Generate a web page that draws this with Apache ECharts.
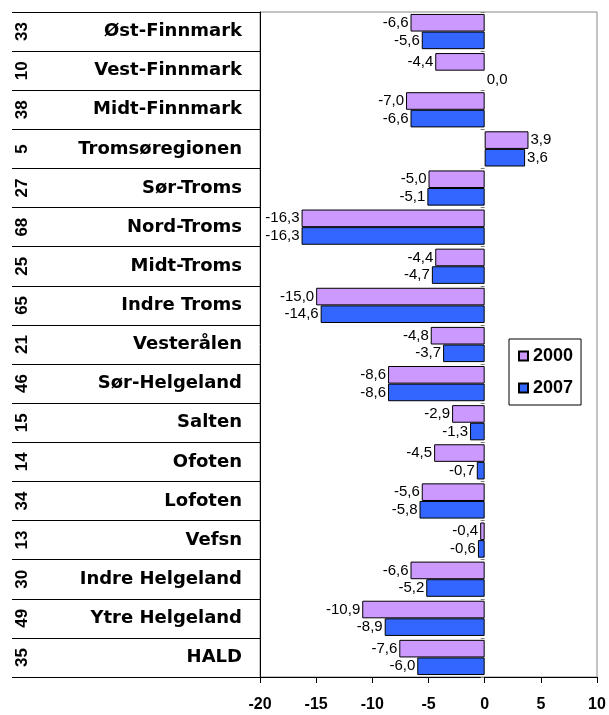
<!DOCTYPE html>
<html>
<head>
<meta charset="utf-8">
<script src="https://cdn.jsdelivr.net/npm/echarts@6/dist/echarts.min.js"></script>
<style>
  html, body { margin: 0; padding: 0; background: #fff; }
  #chart { width: 609px; height: 715px; }
</style>
</head>
<body>
<div id="chart"></div>
<script>
const regions = [
  'Øst-Finnmark', 'Vest-Finnmark', 'Midt-Finnmark', 'Tromsøregionen', 'Sør-Troms',
  'Nord-Troms', 'Midt-Troms', 'Indre Troms', 'Vesterålen', 'Sør-Helgeland',
  'Salten', 'Ofoten', 'Lofoten', 'Vefsn', 'Indre Helgeland', 'Ytre Helgeland', 'HALD'
];
const regionNumbers = ['33', '10', '38', '5', '27', '68', '25', '65', '21', '46', '15', '14', '34', '13', '30', '49', '35'];
const values2000 = [-6.6, -4.4, -7.0, 3.9, -5.0, -16.3, -4.4, -15.0, -4.8, -8.6, -2.9, -4.5, -5.6, -0.4, -6.6, -10.9, -7.6];
const values2007 = [-5.6, 0.0, -6.6, 3.6, -5.1, -16.3, -4.7, -14.6, -3.7, -8.6, -1.3, -0.7, -5.8, -0.6, -5.2, -8.9, -6.0];
const seriesNames = ['2000', '2007'];
const xMin = -20;
const xMax = 10;
const xStep = 5;

const fmt = (v) => v.toFixed(1).replace('.', ',');
// negative values get their label on the left, others on the right;
// a zero bar has no visible outline
const toItems = (arr) => arr.map(v => ({
  value: v,
  label: { position: v < 0 ? 'left' : 'right' },
  itemStyle: v === 0 ? { borderWidth: 0 } : undefined
}));

const barSeries = (name, data, color) => ({
  name: name,
  type: 'bar',
  yAxisIndex: 0,
  data: toItems(data),
  barGap: '0%',
  barCategoryGap: '10%',
  itemStyle: { color: color, borderColor: '#000', borderWidth: 1 },
  label: {
    show: true,
    distance: 2,
    color: '#000',
    fontSize: 15,
    fontFamily: 'Liberation Sans',
    formatter: (p) => fmt(p.value)
  }
});

const myChart = echarts.init(document.getElementById('chart'));
myChart.setOption({
  backgroundColor: '#fff',
  animation: false,
  textStyle: { fontFamily: 'Liberation Sans' },
  grid: {
    left: 260,
    right: 12,
    top: 12,
    bottom: 38,
    show: true,
    borderColor: '#888',
    borderWidth: 1
  },
  legend: {
    orient: 'vertical',
    left: 509,
    top: 339,
    backgroundColor: '#fff',
    borderColor: '#000',
    borderWidth: 1,
    borderRadius: 0,
    padding: [8, 8, 8, 9],
    itemGap: 14,
    itemWidth: 9,
    itemHeight: 9,
    icon: 'rect',
    data: seriesNames,
    textStyle: { fontSize: 18, fontWeight: 'bold', color: '#000', fontFamily: 'Liberation Sans' }
  },
  xAxis: {
    type: 'value',
    min: xMin,
    max: xMax,
    interval: xStep,
    splitLine: { show: false },
    axisLine: { show: true, lineStyle: { color: '#000', width: 1 } },
    axisTick: { show: true, length: 6, lineStyle: { color: '#000' } },
    axisLabel: {
      margin: 20,
      fontSize: 16,
      fontWeight: 'bold',
      color: '#000',
      fontFamily: 'Liberation Sans'
    }
  },
  yAxis: [
    {
      type: 'category',
      inverse: true,
      data: regions,
      position: 'left',
      axisLine: { show: true, onZero: false, lineStyle: { color: '#000' } },
      axisTick: { show: true, length: 248, lineStyle: { color: '#000' } },
      axisLabel: {
        margin: 18,
        fontSize: 18,
        fontWeight: 'bold',
        color: '#000',
        fontFamily: 'DejaVu Sans'
      }
    },
    {
      type: 'category',
      inverse: true,
      data: regionNumbers,
      position: 'left',
      offset: 220,
      axisLine: { show: false, onZero: false },
      axisTick: { show: false },
      axisLabel: {
        rotate: 90,
        margin: 9,
        fontSize: 17,
        fontWeight: 'bold',
        color: '#000',
        fontFamily: 'Liberation Sans'
      }
    },
    {
      type: 'category',
      inverse: true,
      data: regions,
      position: 'left',
      axisLine: { show: false, onZero: true },
      axisTick: { show: true, length: 4, lineStyle: { color: '#808080' } },
      axisLabel: { show: false }
    }
  ],
  series: [
    barSeries(seriesNames[0], values2000, '#CC99FF'),
    barSeries(seriesNames[1], values2007, '#3366FF')
  ]
});
</script>
</body>
</html>
